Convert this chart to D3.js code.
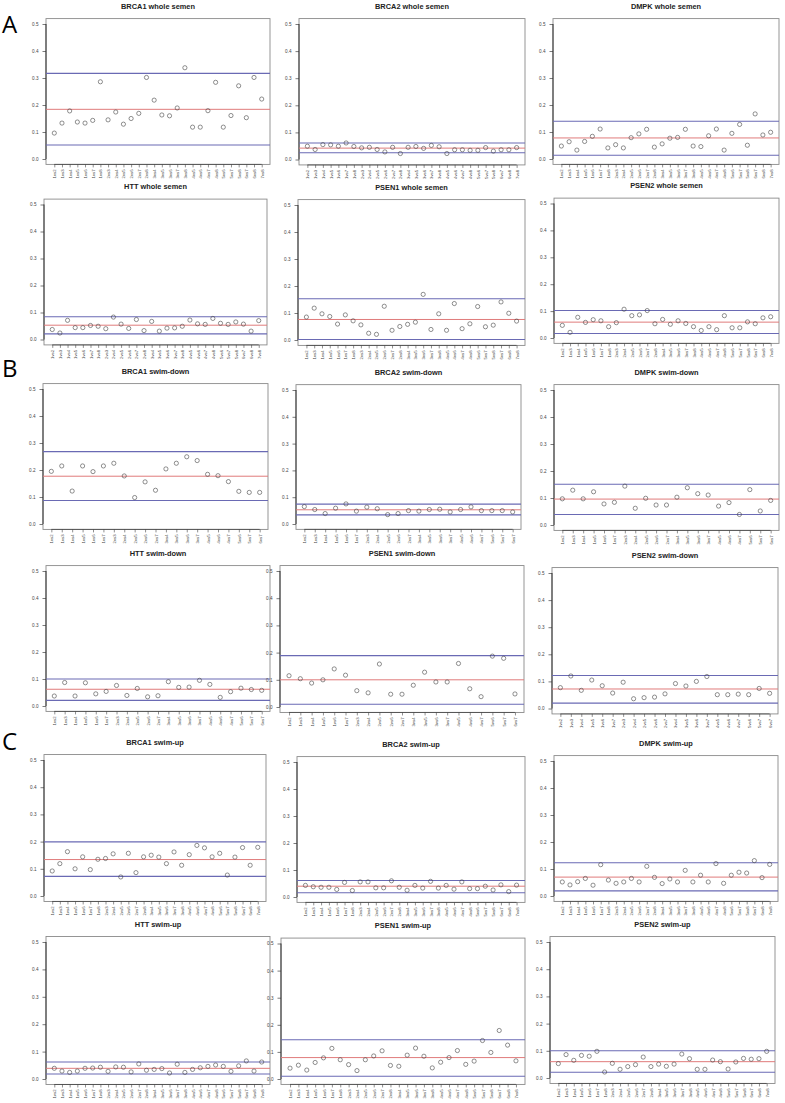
<!DOCTYPE html>
<html>
<head>
<meta charset="utf-8">
<script src="https://cdn.jsdelivr.net/npm/d3@7"></script>
<style>
  body { margin: 0; background: #fff; }
  svg { display: block; }
</style>
</head>
<body>
<div id="viz_div"></div>
<script>
// PAIR LABELS (tick labels on the x axis)
// ---------------------------------------------------------------------------------------------------------------------------------
const pairs8 = ["1vs2", "1vs3", "1vs4", "1vs5", "1vs6", "1vs7", "1vs8", "2vs3", "2vs4", "2vs5", "2vs6", "2vs7", "2vs8",
  "3vs4", "3vs5", "3vs6", "3vs7", "3vs8", "4vs5", "4vs6", "4vs7", "4vs8", "5vs6", "5vs7", "5vs8", "6vs7", "6vs8", "7vs8"];
const pairs7 = ["1vs2", "1vs3", "1vs4", "1vs5", "1vs6", "1vs7", "2vs3", "2vs4", "2vs5", "2vs6", "2vs7",
  "3vs4", "3vs5", "3vs6", "3vs7", "4vs5", "4vs6", "4vs7", "5vs6", "5vs7", "6vs7"];
const yTicks = [0.0, 0.1, 0.2, 0.3, 0.4, 0.5];

// VALUES PER PANEL
// ---------------------------------------------------------------------------------------------------------------------------------
const brca1Whole = [0.096, 0.133, 0.178, 0.137, 0.133, 0.143, 0.286, 0.145, 0.174, 0.129, 0.150, 0.169, 0.302, 0.218, 0.163, 0.160,
  0.189, 0.338, 0.118, 0.118, 0.179, 0.284, 0.118, 0.161, 0.271, 0.153, 0.302, 0.222];
const brca2Whole = [0.049, 0.037, 0.055, 0.054, 0.049, 0.061, 0.048, 0.043, 0.045, 0.037, 0.028, 0.045, 0.022, 0.045, 0.048, 0.041,
  0.052, 0.047, 0.022, 0.036, 0.036, 0.034, 0.034, 0.044, 0.031, 0.036, 0.036, 0.044];
const dmpkWhole = [0.048, 0.064, 0.033, 0.065, 0.084, 0.111, 0.041, 0.053, 0.041, 0.079, 0.093, 0.110, 0.044, 0.056, 0.077, 0.080,
  0.110, 0.048, 0.046, 0.086, 0.111, 0.033, 0.095, 0.128, 0.051, 0.167, 0.089, 0.099];
const httWhole = [0.037, 0.024, 0.071, 0.044, 0.044, 0.052, 0.049, 0.040, 0.083, 0.057, 0.041, 0.074, 0.033, 0.067, 0.031, 0.042,
  0.043, 0.049, 0.072, 0.058, 0.056, 0.078, 0.060, 0.056, 0.065, 0.057, 0.031, 0.070];
const psen1Whole = [0.085, 0.118, 0.097, 0.087, 0.059, 0.093, 0.071, 0.056, 0.025, 0.021, 0.125, 0.036, 0.050, 0.058, 0.066, 0.169,
  0.039, 0.097, 0.036, 0.135, 0.042, 0.060, 0.124, 0.049, 0.055, 0.141, 0.099, 0.070];
const psen2Whole = [0.047, 0.021, 0.077, 0.058, 0.068, 0.064, 0.042, 0.057, 0.107, 0.083, 0.086, 0.102, 0.053, 0.069, 0.051, 0.064,
  0.054, 0.042, 0.028, 0.042, 0.031, 0.083, 0.038, 0.038, 0.060, 0.053, 0.075, 0.079];

const brca1Down = [0.195, 0.215, 0.122, 0.215, 0.194, 0.215, 0.225, 0.178, 0.098, 0.156, 0.125, 0.204, 0.225, 0.249, 0.235, 0.184,
  0.179, 0.157, 0.121, 0.117, 0.117];
const brca2Down = [0.065, 0.054, 0.039, 0.059, 0.075, 0.048, 0.063, 0.057, 0.035, 0.039, 0.050, 0.048, 0.054, 0.055, 0.045, 0.054,
  0.064, 0.050, 0.050, 0.050, 0.045];
const dmpkDown = [0.097, 0.129, 0.097, 0.123, 0.078, 0.084, 0.144, 0.062, 0.099, 0.074, 0.074, 0.103, 0.138, 0.116, 0.111, 0.070,
  0.083, 0.039, 0.131, 0.052, 0.091];
const httDown = [0.037, 0.087, 0.037, 0.086, 0.045, 0.054, 0.076, 0.039, 0.065, 0.034, 0.038, 0.090, 0.069, 0.070, 0.095, 0.080,
  0.032, 0.053, 0.066, 0.061, 0.058];
const psen1Down = [0.115, 0.104, 0.088, 0.100, 0.140, 0.117, 0.060, 0.052, 0.158, 0.047, 0.047, 0.080, 0.128, 0.092, 0.092, 0.160,
  0.067, 0.038, 0.187, 0.179, 0.048];
const psen2Down = [0.077, 0.120, 0.067, 0.105, 0.084, 0.057, 0.097, 0.036, 0.040, 0.042, 0.054, 0.092, 0.083, 0.100, 0.118, 0.051,
  0.051, 0.053, 0.051, 0.074, 0.056];

const brca1Up = [0.092, 0.119, 0.163, 0.100, 0.144, 0.097, 0.135, 0.138, 0.155, 0.070, 0.157, 0.086, 0.144, 0.150, 0.143, 0.119,
  0.162, 0.113, 0.152, 0.186, 0.177, 0.144, 0.157, 0.077, 0.143, 0.178, 0.113, 0.179];
const brca2Up = [0.043, 0.038, 0.036, 0.036, 0.028, 0.054, 0.024, 0.056, 0.056, 0.034, 0.034, 0.060, 0.036, 0.025, 0.043, 0.033,
  0.058, 0.033, 0.043, 0.029, 0.056, 0.031, 0.031, 0.040, 0.026, 0.045, 0.020, 0.044];
const dmpkUp = [0.052, 0.041, 0.053, 0.065, 0.040, 0.116, 0.059, 0.047, 0.052, 0.065, 0.052, 0.110, 0.069, 0.046, 0.063, 0.052,
  0.095, 0.052, 0.077, 0.052, 0.120, 0.047, 0.077, 0.088, 0.085, 0.131, 0.068, 0.117];
const httUp = [0.039, 0.029, 0.024, 0.029, 0.039, 0.040, 0.043, 0.028, 0.044, 0.043, 0.026, 0.055, 0.032, 0.035, 0.038, 0.022,
  0.054, 0.024, 0.035, 0.041, 0.046, 0.051, 0.046, 0.028, 0.048, 0.066, 0.029, 0.062];
const psen1Up = [0.040, 0.051, 0.033, 0.061, 0.078, 0.113, 0.071, 0.053, 0.031, 0.071, 0.085, 0.104, 0.050, 0.047, 0.088, 0.114,
  0.084, 0.041, 0.062, 0.079, 0.105, 0.054, 0.066, 0.142, 0.098, 0.179, 0.125, 0.067];
const psen2Up = [0.053, 0.086, 0.065, 0.083, 0.080, 0.098, 0.022, 0.054, 0.032, 0.042, 0.049, 0.077, 0.042, 0.051, 0.043, 0.051,
  0.088, 0.071, 0.032, 0.032, 0.066, 0.060, 0.033, 0.059, 0.072, 0.069, 0.071, 0.098];

// reference lines per panel: [lower (blue), mean (red), upper (blue)]
const linesWhole = [[0.052, 0.184, 0.317], [0.025, 0.042, 0.061], [0.014, 0.078, 0.140],
                    [0.021, 0.053, 0.084], [0.002, 0.076, 0.153], [0.017, 0.059, 0.102]];
const linesDown  = [[0.087, 0.177, 0.268], [0.034, 0.053, 0.074], [0.039, 0.096, 0.151],
                    [0.021, 0.062, 0.100], [0.010, 0.100, 0.189], [0.020, 0.072, 0.122]];
const linesUp    = [[0.072, 0.134, 0.199], [0.016, 0.040, 0.061], [0.019, 0.070, 0.123],
                    [0.018, 0.039, 0.062], [0.010, 0.079, 0.145], [0.021, 0.060, 0.100]];

const genes = ["BRCA1", "BRCA2", "DMPK", "HTT", "PSEN1", "PSEN2"];
const fractions = ["whole semen", "swim-down", "swim-up"];

// LAYOUT: each panel box [left, right, y of 0.5, y of 0.0]
// ---------------------------------------------------------------------------------------------------------------------------------
const boxes = [
  [46, 270, 24, 159], [299, 525, 24, 159.5], [553, 779, 24, 159],
  [44, 267, 204.5, 339.5], [298, 525, 205, 340], [554, 779, 203.5, 338],
  [43, 268, 389, 524], [296, 521, 390, 524], [554, 779, 390, 525],
  [46, 270, 571, 706], [280, 524, 571, 707], [552, 778, 573, 708.5],
  [44, 266, 760, 896], [297, 525, 762, 897], [554, 778, 761, 896],
  [46, 270, 942, 1079], [281, 525, 943.5, 1079], [550, 775, 942, 1078]
];
const groupLetters = [["A", 33], ["B", 377], ["C", 750]];

const width = 785, height = 1103;
const colBlue = "#6a6ab4", colRed = "#e07b7b";

const svg = d3.select("#viz_div")
  .append("svg")
  .attr("width", width)
  .attr("height", height)
  .style("font-family", "'Liberation Sans', Arial, sans-serif");

// BUILD PANEL LIST FROM THE ARRAYS
const seriesByFraction = [
  [brca1Whole, brca2Whole, dmpkWhole, httWhole, psen1Whole, psen2Whole],
  [brca1Down, brca2Down, dmpkDown, httDown, psen1Down, psen2Down],
  [brca1Up, brca2Up, dmpkUp, httUp, psen1Up, psen2Up]
];
const linesByFraction = [linesWhole, linesDown, linesUp];

const panels = [];
fractions.forEach((fr, f) => {
  genes.forEach((gene, gi) => {
    const values = seriesByFraction[f][gi];
    panels.push({
      title: gene + " " + fr,
      values: values,
      labels: values.length === 28 ? pairs8 : pairs7,
      lines: linesByFraction[f][gi]
    });
  });
});

// DRAW EACH PANEL
// ---------------------------------------------------------------------------------------------------------------------------------
panels.forEach((p, i) => {
  const [left, right, y5, y0] = boxes[i];
  const n = p.values.length;
  const pad = 0.04 * (n - 1);
  const x = d3.scaleLinear([1 - pad, n + pad], [left, right]);
  const y = d3.scaleLinear([0, 0.5], [y0, y5]);
  const top = y(0.52), bottom = y(-0.02);

  const g = svg.append("g");

  // plot box
  g.append("rect")
    .attr("x", left)
    .attr("y", top)
    .attr("width", right - left)
    .attr("height", bottom - top)
    .attr("fill", "none")
    .attr("stroke", "#8a8a8a")
    .attr("stroke-width", 0.9);

  // title
  g.append("text")
    .attr("x", (left + right) / 2)
    .attr("y", top - 10)
    .attr("text-anchor", "middle")
    .attr("font-size", "7.4px")
    .attr("font-weight", "bold")
    .attr("fill", "#222")
    .text(p.title);

  // y axis
  const ya = g.append("g")
    .attr("transform", `translate(${left},0)`)
    .call(d3.axisLeft(y).tickValues(yTicks).tickFormat(d3.format(".1f")).tickSize(3.5).tickPadding(4));
  ya.select(".domain").remove();
  ya.selectAll("line").attr("stroke", "#444").attr("stroke-width", 0.7);
  ya.selectAll("text").attr("font-size", "4.6px").attr("fill", "#444").attr("font-family", "'Liberation Sans', Arial, sans-serif");
  g.append("line")
    .attr("x1", left).attr("x2", left)
    .attr("y1", y(0)).attr("y2", y(0.5))
    .attr("stroke", "#333").attr("stroke-width", 1);

  // x axis
  const xa = g.append("g")
    .attr("transform", `translate(0,${bottom})`)
    .call(d3.axisBottom(x).tickValues(d3.range(1, n + 1)).tickFormat(d => p.labels[d - 1]).tickSize(3).tickPadding(2));
  xa.select(".domain").remove();
  xa.selectAll("line").attr("stroke", "#444").attr("stroke-width", 0.6);
  xa.selectAll("text")
    .attr("font-size", "4.3px")
    .attr("fill", "#444")
    .attr("font-family", "'Liberation Sans', Arial, sans-serif")
    .attr("transform", "rotate(-90)")
    .attr("text-anchor", "end")
    .attr("x", -5)
    .attr("y", 0)
    .attr("dy", "0.35em");
  g.append("line")
    .attr("x1", x(1)).attr("x2", x(n))
    .attr("y1", bottom).attr("y2", bottom)
    .attr("stroke", "#444").attr("stroke-width", 0.8);

  // reference lines
  const [lo, mean, hi] = p.lines;
  [[hi, colBlue, 1.1], [lo, colBlue, 1.1], [mean, colRed, 1]].forEach(([v, c, w]) => {
    g.append("line")
      .attr("x1", left).attr("x2", right)
      .attr("y1", y(v)).attr("y2", y(v))
      .attr("stroke", c)
      .attr("stroke-width", w);
  });

  // points
  g.selectAll("circle")
    .data(p.values)
    .enter()
    .append("circle")
    .attr("cx", (d, k) => x(k + 1))
    .attr("cy", d => y(d))
    .attr("r", 2.1)
    .attr("fill", "none")
    .attr("stroke", "#444")
    .attr("stroke-width", 0.6);
});

// GROUP LETTERS
// ---------------------------------------------------------------------------------------------------------------------------------
svg.selectAll(".letter")
  .data(groupLetters)
  .enter()
  .append("text")
  .attr("class", "letter")
  .attr("x", 2)
  .attr("y", d => d[1])
  .attr("font-size", "24px")
  .attr("font-family", "'Open Sans', sans-serif")
  .attr("fill", "#000")
  .text(d => d[0]);
</script>
</body>
</html>
